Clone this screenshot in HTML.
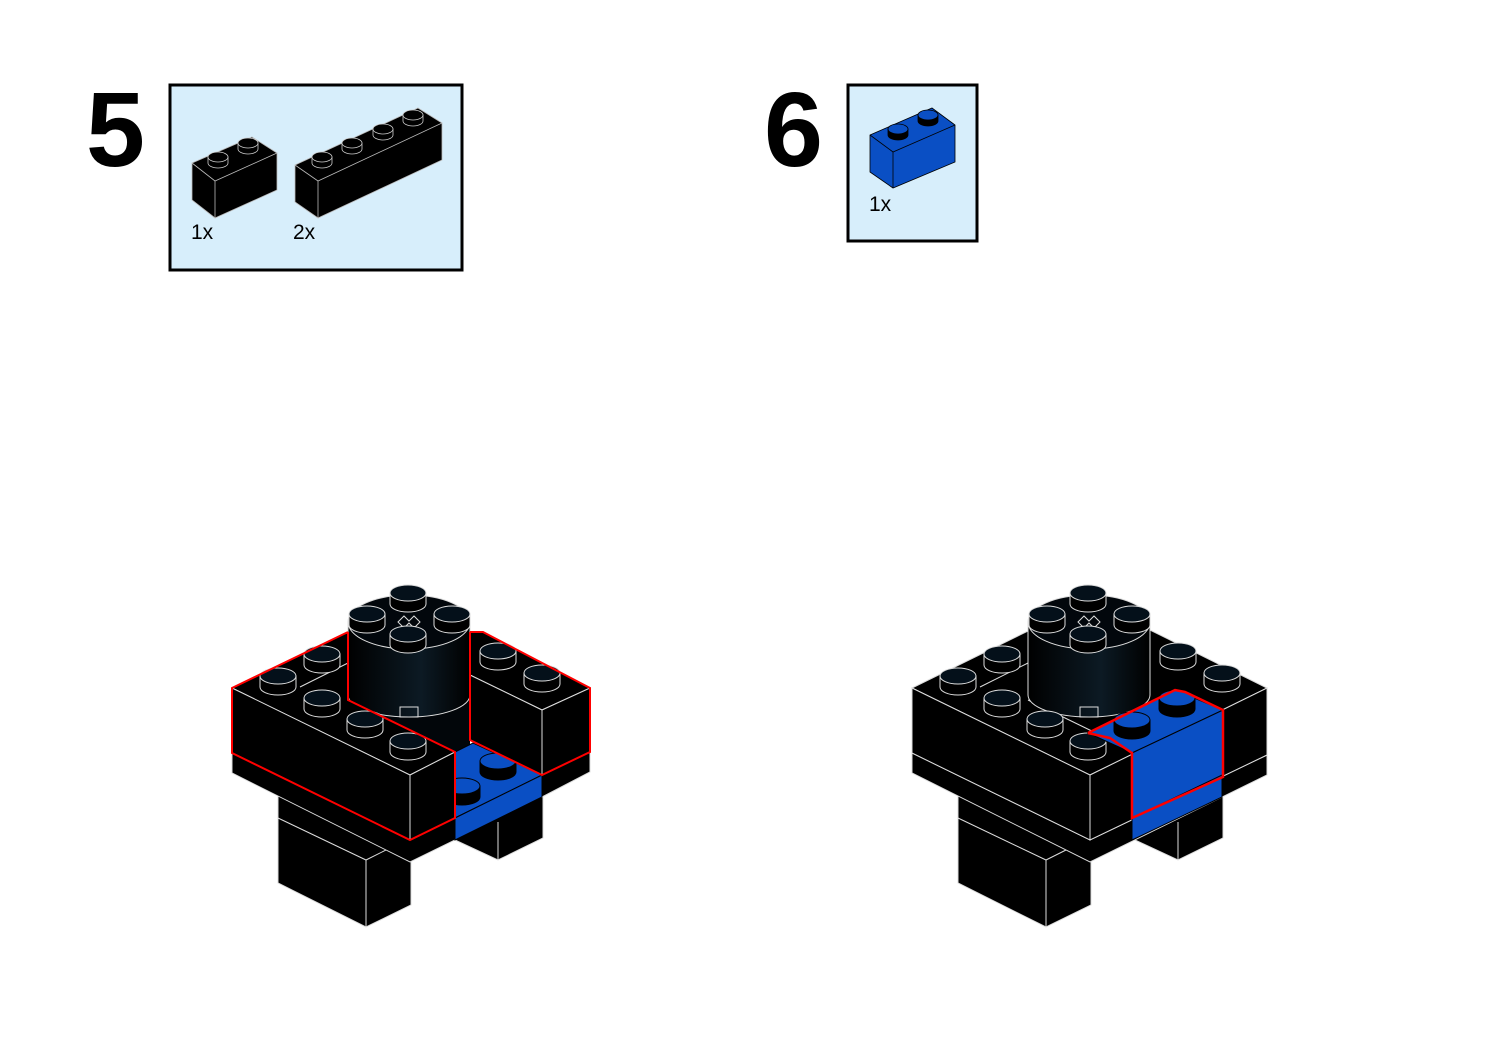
<!DOCTYPE html>
<html><head><meta charset="utf-8"><style>
html,body{margin:0;padding:0;background:#fff;}
svg{display:block;}
</style></head><body>
<svg width="1500" height="1061" viewBox="0 0 1500 1061" xmlns="http://www.w3.org/2000/svg">
<defs>
<g id="st">
<path d="M-18,0 v11 a18,8 0 0 0 36,0 v-11 z" fill="#000" stroke="#ddd" stroke-width="1"/>
<ellipse cx="0" cy="0" rx="18" ry="8" fill="#04101a" stroke="#ddd" stroke-width="1"/>
</g>
<g id="sb">
<path d="M-18,0 v11 a18,8 0 0 0 36,0 v-11 z" fill="#000" stroke="#000" stroke-width="1"/>
<ellipse cx="0" cy="0" rx="18" ry="8" fill="#0a4fc4" stroke="#000" stroke-width="1"/>
</g>
<g id="ss">
<path d="M-10,0 v6 a10,5 0 0 0 20,0 v-6 z" fill="#000" stroke="#ccc" stroke-width="0.8"/>
<ellipse cx="0" cy="0" rx="10" ry="5" fill="#000" stroke="#ccc" stroke-width="0.8"/>
</g>
<g id="ssb">
<path d="M-10,0 v6 a10,5 0 0 0 20,0 v-6 z" fill="#000" stroke="#000" stroke-width="0.8"/>
<ellipse cx="0" cy="0" rx="10" ry="5" fill="#0a4fc4" stroke="#000" stroke-width="0.8"/>
</g>
<linearGradient id="cyl" x1="0" x2="1" y1="0" y2="0">
<stop offset="0" stop-color="#000"/><stop offset="0.6" stop-color="#0c1a24"/><stop offset="1" stop-color="#000"/>
</linearGradient>
<g id="cylinder">
<path d="M348,622 V695 A61,22 0 0 0 470,695 V622 Z" fill="url(#cyl)" stroke="#ddd" stroke-width="1"/>
<ellipse cx="409" cy="622" rx="61" ry="27" fill="#02070c" stroke="#ddd" stroke-width="1"/>
<path d="M398,622 l6,-6 l5,5 l5,-5 l6,6 l-6,6 l-5,-5 l-5,5 z" fill="none" stroke="#ddd" stroke-width="1"/>
<use href="#st" x="408" y="593"/>
<use href="#st" x="367" y="614"/>
<use href="#st" x="452" y="614"/>
<use href="#st" x="408" y="634"/>
<rect x="400" y="707" width="18" height="10" fill="none" stroke="#ddd" stroke-width="1"/>
</g>
<g id="legs" stroke="#ddd" stroke-width="1" fill="#000">
<polygon points="278,790 278,883 366,927 411,905 411,820"/>
<line x1="366" y1="860" x2="366" y2="927"/>
<line x1="278" y1="818" x2="366" y2="860"/>
<line x1="366" y1="860" x2="390" y2="848"/>
<polygon points="455,818 455,840 498,860 543,838 543,780"/>
<line x1="498" y1="822" x2="498" y2="860"/>
</g>
</defs>

<text x="86" y="166" font-family="Liberation Sans, sans-serif" font-weight="bold" font-size="106">5</text>
<text x="764" y="166" font-family="Liberation Sans, sans-serif" font-weight="bold" font-size="106">6</text>

<rect x="170" y="85" width="292" height="185" fill="#d7eefb" stroke="#000" stroke-width="3"/>
<g stroke="#bbb" stroke-width="0.8">
<polygon points="192,163 252,137 277,153 277,190 215,218 192,200" fill="#000"/>
<polyline points="192,163 215,181 277,153" fill="none"/>
<line x1="215" y1="181" x2="215" y2="218"/>
<polygon points="295,165 418,108 442,123 442,160 318,218 295,202" fill="#000"/>
<polyline points="295,165 318,181 442,123" fill="none"/>
<line x1="318" y1="181" x2="318" y2="218"/>
</g>
<use href="#ss" x="218" y="157"/><use href="#ss" x="248" y="143"/>
<use href="#ss" x="322" y="157"/><use href="#ss" x="352" y="143"/>
<use href="#ss" x="383" y="129"/><use href="#ss" x="413" y="115"/>
<text x="191" y="239" font-family="Liberation Sans, sans-serif" font-size="21">1x</text>
<text x="293" y="239" font-family="Liberation Sans, sans-serif" font-size="21">2x</text>

<rect x="848" y="85" width="129" height="156" fill="#d7eefb" stroke="#000" stroke-width="3"/>
<g stroke="#000" stroke-width="0.8">
<polygon points="870,135 932,108 955,125 955,162 893,188 870,172" fill="#0a4fc4"/>
<polyline points="870,135 893,152 955,125" fill="none"/>
<line x1="893" y1="152" x2="893" y2="188"/>
</g>
<use href="#ssb" x="898" y="129"/><use href="#ssb" x="928" y="115"/>
<text x="869" y="211" font-family="Liberation Sans, sans-serif" font-size="21">1x</text>

<!-- left model -->
<use href="#legs"/>
<g stroke="#ddd" stroke-width="1" fill="#000">
<polygon points="232,753 232,773 410,862 455,840 455,818 410,840"/>
<polygon points="542,773 590,752 590,772 542,797"/>
</g>
<polygon points="348,640 470,640 470,760 348,760" fill="#02060a"/>
<use href="#cylinder"/>
<g stroke="#000" stroke-width="1">
<polygon points="455,752 473,743 542,775 455,818" fill="#0a4fc4"/>
<polygon points="455,818 542,775 542,797 455,840" fill="#0a4fc4"/>
</g>
<use href="#sb" x="498" y="761"/>
<use href="#sb" x="462" y="786"/>
<g stroke="#ddd" stroke-width="1" fill="#000">
<polygon points="470,632 483,632 590,688 542,710 470,675"/>
<polygon points="542,710 590,688 590,752 542,775"/>
<polygon points="470,675 542,710 542,775 470,740"/>
</g>
<use href="#st" x="498" y="651"/>
<use href="#st" x="542" y="673"/>
<polyline points="470,632 483,632 590,688 590,752 542,775 470,740 470,632" fill="none" stroke="#f00" stroke-width="2"/>
<g stroke="#ddd" stroke-width="1" fill="#000">
<polygon points="232,688 348,632 348,700 455,752 410,775"/>
<polygon points="232,688 410,775 410,840 232,753"/>
<polygon points="410,775 455,752 455,818 410,840"/>
<line x1="300" y1="687" x2="348" y2="663"/>
</g>
<use href="#st" x="278" y="676"/>
<use href="#st" x="322" y="654"/>
<use href="#st" x="322" y="698"/>
<use href="#st" x="365" y="719"/>
<use href="#st" x="408" y="741"/>
<polyline points="348,632 232,688 232,753 410,840 455,818 455,752 348,700 348,632" fill="none" stroke="#f00" stroke-width="2"/>

<!-- right model -->
<g transform="translate(680,0)"><use href="#legs"/></g>
<g stroke="#ddd" stroke-width="1" fill="#000">
<polygon points="912,753 912,773 1090,862 1267,775 1267,755 1090,840"/>
<polygon points="912,688 1030,630 1150,630 1267,688 1090,775"/>
<polygon points="912,688 1090,775 1090,840 912,753"/>
<polygon points="1090,775 1267,688 1267,755 1090,840"/>
<line x1="980" y1="687" x2="1028" y2="663"/>
<line x1="1028" y1="700" x2="1135" y2="752"/>
</g>
<g transform="translate(680,0)"><use href="#cylinder"/></g>
<use href="#st" x="958" y="676"/>
<use href="#st" x="1002" y="654"/>
<use href="#st" x="1002" y="698"/>
<use href="#st" x="1045" y="719"/>
<use href="#st" x="1088" y="741"/>
<use href="#st" x="1178" y="651"/>
<use href="#st" x="1222" y="673"/>
<g stroke="#000" stroke-width="1" fill="#0a4fc4">
<polygon points="1088,733 1175,690 1223,710 1132,753"/>
<polygon points="1132,753 1223,710 1223,777 1132,818"/>
<polygon points="1132,818 1222,775 1222,797 1132,840"/>
</g>
<use href="#sb" x="1132" y="720"/>
<use href="#sb" x="1177" y="698"/>
<polyline points="1088,733 1110,738 1132,753 1132,818 1223,777 1223,710 1185,692 1175,690 1088,733" fill="none" stroke="#f00" stroke-width="2.5"/>
</svg>
</body></html>
